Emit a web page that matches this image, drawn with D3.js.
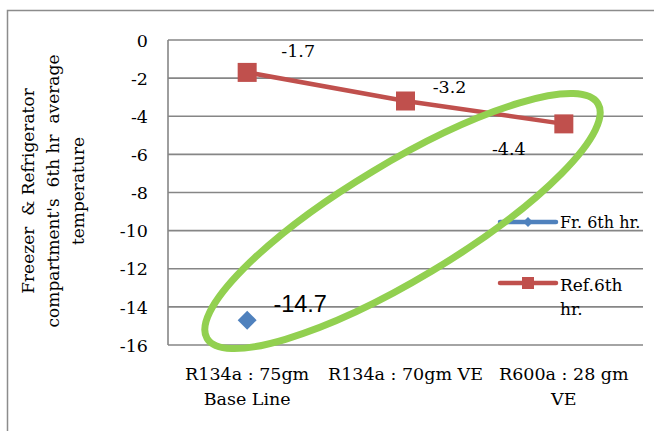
<!DOCTYPE html>
<html><head><meta charset="utf-8">
<script src="https://cdn.jsdelivr.net/npm/d3@7"></script>
<style>html,body{margin:0;padding:0;background:#fff;}svg{display:block;}</style>
</head><body>
<svg id="chart" width="654" height="431"></svg>
<script>
const categories = ["R134a : 75gm Base Line", "R134a : 70gm VE", "R600a : 28 gm VE"];
const categoryLabelLines = [["R134a : 75gm", "Base Line"], ["R134a : 70gm VE"], ["R600a : 28 gm", "VE"]];
const freezerValues = [-14.7, null, null];
const refValues = [-1.7, -3.2, -4.4];
const yTicks = [0, -2, -4, -6, -8, -10, -12, -14, -16];
const seriesNames = ["Fr. 6th hr.", "Ref.6th hr."];
const yTitleLines = ["Freezer  & Refrigerator", "compartment's  6th hr  average", "temperature"];
// label offsets (px) from each point
const refLabelOffsets = [[51, -15], [44, -8], [-55, 31]];
const frLabelOffsets = [[53, -8]];

const svg = d3.select("#chart");
const W = 654, H = 431;
const m = {left: 168, right: 11, top: 40, bottom: 86};
const serif = "'DejaVu Serif', serif";
const red = "#C0504D", blue = "#4F81BD", green = "#92D050", grid = "#868686";

// outer frame
svg.append("rect").attr("x", 7.5).attr("y", 10.5).attr("width", 700).attr("height", 500)
  .attr("fill", "none").attr("stroke", "#8c8c8c").attr("stroke-width", 1.5);

const x = d3.scaleBand().domain(categories).range([m.left, W - m.right]).padding(0);
const y = d3.scaleLinear().domain([-16, 0]).range([H - m.bottom, m.top]);
const cx = c => x(c) + x.bandwidth() / 2;

// gridlines
svg.append("g").selectAll("line").data(yTicks).join("line")
  .attr("x1", m.left).attr("x2", W - m.right)
  .attr("y1", d => y(d)).attr("y2", d => y(d))
  .attr("stroke", grid).attr("stroke-width", 1.6);
// left axis line
svg.append("line").attr("x1", m.left).attr("x2", m.left).attr("y1", y(0)).attr("y2", y(-16))
  .attr("stroke", grid).attr("stroke-width", 1.6);

// y axis labels
const yAxis = d3.axisLeft(y).tickValues(yTicks).tickSize(0).tickPadding(20).tickFormat(d3.format("d"));
const gy = svg.append("g").attr("transform", `translate(${m.left},0)`).call(yAxis);
gy.select(".domain").remove();
gy.selectAll("text").attr("font-family", serif).attr("font-size", "17.5px").attr("fill", "#000")
  .attr("dy", "0.35em").text(d => d === 0 ? "0" : "-" + Math.abs(d));

// x category labels
const gx = svg.append("g");
categories.forEach((c, i) => {
  const t = gx.append("text").attr("x", cx(c)).attr("y", 380).attr("text-anchor", "middle")
    .attr("font-family", serif).attr("font-size", "17.5px").attr("fill", "#000");
  categoryLabelLines[i].forEach((ln, j) => {
    t.append("tspan").attr("x", cx(c)).attr("dy", j === 0 ? 0 : 25).text(ln);
  });
});

// y title
const yt = svg.append("text").attr("transform", "translate(34,191) rotate(-90)")
  .attr("text-anchor", "middle").attr("font-family", serif).attr("font-size", "17px").attr("fill", "#000");
yTitleLines.forEach((ln, j) => {
  yt.append("tspan").attr("x", 0).attr("dy", j === 0 ? 0 : 25).attr("xml:space", "preserve").style("white-space", "pre").text(ln);
});

// ref series line
const refData = categories.map((c, i) => ({c, v: refValues[i]})).filter(d => d.v != null);
svg.append("path").datum(refData)
  .attr("d", d3.line().x(d => cx(d.c)).y(d => y(d.v)))
  .attr("fill", "none").attr("stroke", red).attr("stroke-width", 4.5).attr("stroke-linejoin", "round");
svg.append("g").selectAll("rect").data(refData).join("rect")
  .attr("x", d => cx(d.c) - 9.5).attr("y", d => y(d.v) - 9.5).attr("width", 19).attr("height", 19)
  .attr("fill", red);

// freezer series (diamond markers)
const frData = categories.map((c, i) => ({c, v: freezerValues[i]})).filter(d => d.v != null);
svg.append("g").selectAll("path").data(frData).join("path")
  .attr("d", d3.symbol().type(d3.symbolSquare).size(180))
  .attr("transform", d => `translate(${cx(d.c)},${y(d.v)}) rotate(45)`)
  .attr("fill", blue);

// labels
svg.append("g").selectAll("text").data(refData).join("text")
  .attr("x", (d, i) => cx(d.c) + refLabelOffsets[i][0]).attr("y", (d, i) => y(d.v) + refLabelOffsets[i][1])
  .attr("text-anchor", "middle").attr("font-family", serif).attr("font-size", "17.5px").attr("fill", "#000")
  .text(d => d.v.toFixed(1));
svg.append("g").selectAll("text").data(frData).join("text")
  .attr("x", (d, i) => cx(d.c) + frLabelOffsets[i][0]).attr("y", (d, i) => y(d.v) + frLabelOffsets[i][1])
  .attr("text-anchor", "middle").attr("font-family", "'Liberation Sans', Arial, sans-serif").attr("font-size", "23.5px").attr("fill", "#000")
  .text(d => d.v.toFixed(1));

// legend
const lg = svg.append("g");
const lx1 = 500, lx2 = 556;
lg.append("line").attr("x1", lx1).attr("x2", lx2).attr("y1", 222).attr("y2", 222)
  .attr("stroke", blue).attr("stroke-width", 4.5).attr("stroke-linecap", "round");
lg.append("path").attr("d", d3.symbol().type(d3.symbolSquare).size(50)).attr("transform", `translate(${(lx1+lx2)/2},222) rotate(45)`).attr("fill", blue);
lg.append("text").attr("x", 560).attr("y", 228).attr("font-family", serif).attr("font-size", "16px").text(seriesNames[0]);
lg.append("line").attr("x1", lx1).attr("x2", lx2).attr("y1", 283).attr("y2", 283)
  .attr("stroke", red).attr("stroke-width", 4.5).attr("stroke-linecap", "round");
lg.append("rect").attr("x", (lx1+lx2)/2 - 6).attr("y", 277).attr("width", 12).attr("height", 12).attr("fill", red);
const lt = lg.append("text").attr("x", 560).attr("y", 291).attr("font-family", serif).attr("font-size", "17px");
seriesNames[1].split(" ").forEach((w, j) => lt.append("tspan").attr("x", 560).attr("dy", j === 0 ? 0 : 24).text(w));

// green annotation ellipse
const ecx = cx(categories[1]) - 3, ecy = y(-9.5);
svg.append("ellipse").attr("cx", 0).attr("cy", 0).attr("rx", 228).attr("ry", 58)
  .attr("transform", `translate(${ecx},${ecy}) rotate(-31)`)
  .attr("fill", "none").attr("stroke", green).attr("stroke-width", 7);
</script>
</body></html>
